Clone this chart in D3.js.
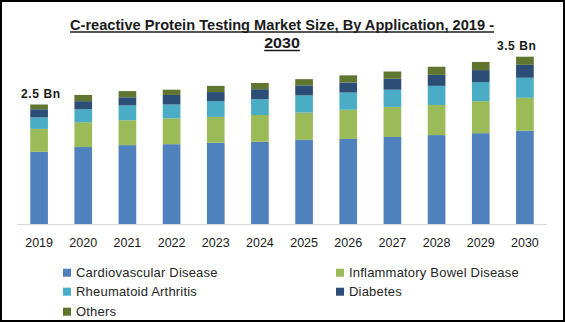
<!DOCTYPE html>
<html>
<head>
<meta charset="utf-8">
<script src="https://cdn.jsdelivr.net/npm/d3@7/dist/d3.min.js"></script>
<style>
  html, body { margin: 0; padding: 0; background: #fff; }
  svg { display: block; font-family: "Liberation Sans", Arial, sans-serif; }
</style>
</head>
<body>
<svg id="chart" width="565" height="322"></svg>
<script>
// Market size by application, USD billion
const years = ["2019","2020","2021","2022","2023","2024","2025","2026","2027","2028","2029","2030"];
const cardiovascular = [1.51, 1.61, 1.65, 1.67, 1.70, 1.72, 1.76, 1.78, 1.82, 1.86, 1.90, 1.95];
const inflammatoryBowel = [0.48, 0.52, 0.52, 0.54, 0.54, 0.56, 0.57, 0.61, 0.63, 0.63, 0.67, 0.69];
const rheumatoid = [0.24, 0.27, 0.31, 0.29, 0.33, 0.33, 0.36, 0.36, 0.36, 0.40, 0.40, 0.42];
const diabetes = [0.17, 0.17, 0.17, 0.20, 0.19, 0.21, 0.21, 0.21, 0.23, 0.23, 0.25, 0.27];
const others = [0.10, 0.13, 0.13, 0.11, 0.13, 0.13, 0.13, 0.15, 0.15, 0.17, 0.17, 0.17];
const seriesNames = ["Cardiovascular Disease", "Inflammatory Bowel Disease", "Rheumatoid Arthritis", "Diabetes", "Others"];
const seriesColors = ["#4F81BD", "#9BBB59", "#4BACC6", "#2C4D75", "#5F7530"];
const valueLabels = [{ year: "2019", text: "2.5 Bn" }, { year: "2030", text: "3.5 Bn" }];
const titleLines = ["C-reactive Protein Testing Market Size, By Application, 2019 -", "2030"];

const seriesValues = [cardiovascular, inflammatoryBowel, rheumatoid, diabetes, others];
const keys = seriesNames;
const table = years.map((y, i) => {
  const row = { year: y };
  keys.forEach((k, j) => row[k] = seriesValues[j][i]);
  return row;
});
const stacked = d3.stack().keys(keys)(table);

const svg = d3.select("#chart");

// outer frame
svg.append("rect")
  .attr("x", 1).attr("y", 1).attr("width", 563).attr("height", 320)
  .attr("fill", "#fff").attr("stroke", "#000").attr("stroke-width", 2);

const x = d3.scaleBand().domain(years).range([17, 547]).paddingInner(0.6).paddingOuter(0.3);
const y = d3.scaleLinear().domain([0, 3.5]).range([224, 56.7]);

// title, two underlined lines
const titleWidths = [424, 35.7];
const titleBaselines = [29.5, 48];
titleLines.forEach((t, i) => {
  svg.append("text")
    .attr("x", 282).attr("y", titleBaselines[i])
    .attr("text-anchor", "middle")
    .attr("font-size", 15).attr("font-weight", "bold").attr("fill", "#1a1a1a")
    .attr("textLength", titleWidths[i]).attr("lengthAdjust", "spacingAndGlyphs")
    .text(t);
  svg.append("line")
    .attr("x1", 282 - titleWidths[i] / 2).attr("x2", 282 + titleWidths[i] / 2)
    .attr("y1", titleBaselines[i] + 2.5).attr("y2", titleBaselines[i] + 2.5)
    .attr("stroke", "#1a1a1a").attr("stroke-width", 1.3);
});

// stacked bars
svg.append("g").selectAll("g")
  .data(stacked)
  .join("g")
    .attr("fill", (d, i) => seriesColors[i])
  .selectAll("rect")
  .data(d => d)
  .join("rect")
    .attr("x", d => x(d.data.year))
    .attr("width", x.bandwidth())
    .attr("y", d => y(d[1]))
    .attr("height", d => y(d[0]) - y(d[1]));

// baseline axis
const xAxis = svg.append("g")
  .attr("transform", `translate(0,${y(0)})`)
  .call(d3.axisBottom(x).tickSize(0).tickPadding(14));
xAxis.select(".domain").attr("stroke", "#d9d9d9").attr("stroke-width", 1.2)
  .attr("d", `M${x.range()[0]},0.5H${x.range()[1]}`);
xAxis.selectAll("text")
  .attr("font-size", 12.5).attr("fill", "#1a1a1a")
  .attr("font-family", "Liberation Sans, Arial, sans-serif");

// total value labels
const totals = years.map((yr, i) => d3.sum(seriesValues, s => s[i]));
const labelShift = { "2019": 1.5, "2030": -8.5 };
valueLabels.forEach(l => {
  const i = years.indexOf(l.year);
  svg.append("text")
    .attr("x", x(l.year) + x.bandwidth() / 2 + labelShift[l.year])
    .attr("y", y(totals[i]) - 7)
    .attr("text-anchor", "middle")
    .attr("font-size", 12).attr("font-weight", "bold").attr("fill", "#1a1a1a")
    .attr("textLength", 39).attr("lengthAdjust", "spacing")
    .text(l.text);
});

// legend
const legendCols = [63, 336];
const legendRows = [272.7, 291.7, 311.7];
const legend = svg.append("g");
seriesNames.forEach((name, i) => {
  const cx = legendCols[i % 2];
  const cy = legendRows[Math.floor(i / 2)];
  legend.append("rect")
    .attr("x", cx).attr("y", cy - 4).attr("width", 8).attr("height", 8)
    .attr("fill", seriesColors[i]);
  legend.append("text")
    .attr("x", cx + 13).attr("y", cy + 4.5)
    .attr("font-size", 13).attr("fill", "#262626")
    .attr("letter-spacing", 0.2)
    .text(name);
});
</script>
</body>
</html>
